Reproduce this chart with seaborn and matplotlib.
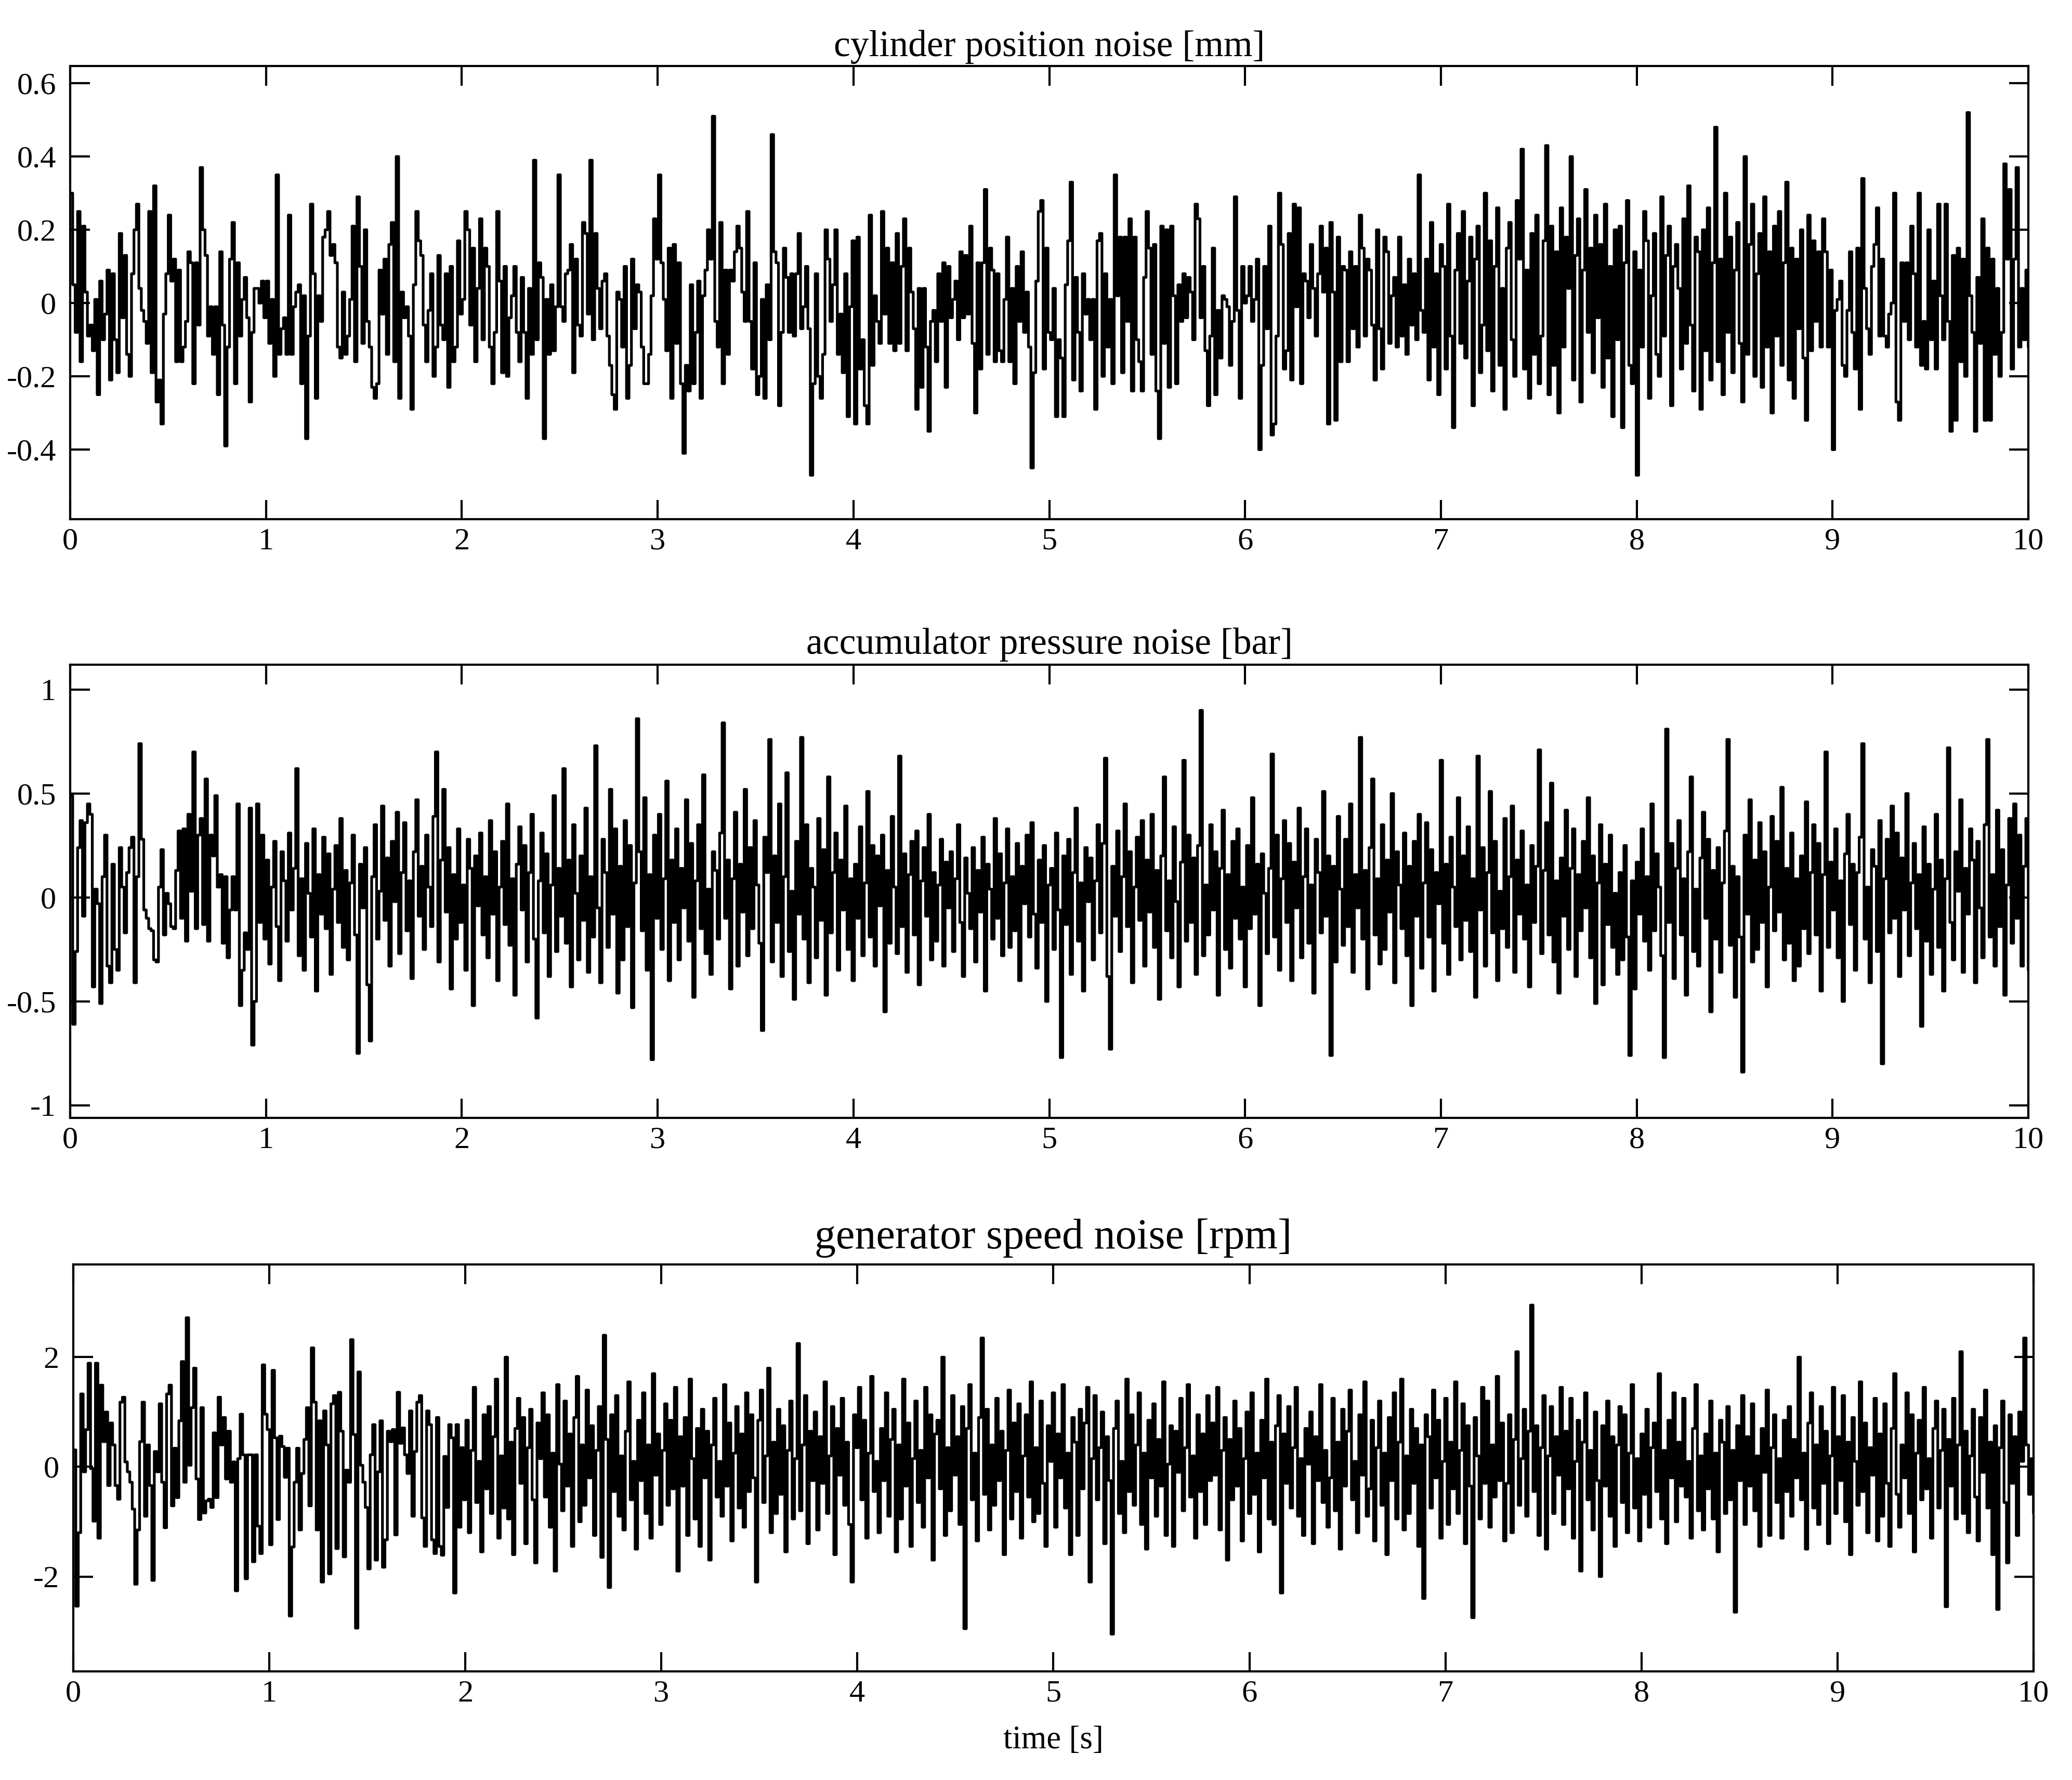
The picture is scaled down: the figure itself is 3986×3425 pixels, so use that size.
import numpy as np
import matplotlib
matplotlib.use("Agg")
import matplotlib.pyplot as plt
import seaborn as sns

# cylinder position noise [mm], 80 samples per second, one row = 0.1 s
cyl_noise = [
    0.30, 0.05, -0.08, 0.25, -0.16, 0.21, 0.03, -0.09,
    -0.06, -0.13, 0.01, -0.25, 0.06, -0.10, -0.03, 0.09,
    -0.21, 0.08, -0.10, -0.19, 0.19, -0.04, 0.13, -0.14,
    -0.20, 0.08, 0.20, 0.27, 0.04, -0.02, -0.05, -0.11,
    0.25, -0.19, 0.32, -0.27, -0.21, -0.33, -0.03, 0.08,
    0.24, 0.06, 0.12, -0.16, 0.09, -0.16, -0.12, -0.05,
    0.14, 0.11, -0.22, 0.11, -0.06, 0.37, 0.20, 0.13,
    -0.09, -0.01, -0.14, -0.01, -0.25, 0.14, -0.06, -0.39,
    -0.12, 0.12, 0.22, -0.22, 0.11, -0.09, 0.01, 0.07,
    -0.04, -0.27, -0.08, 0.04, 0.04, 0.00, 0.06, -0.04,
    0.06, -0.11, 0.01, -0.20, 0.35, -0.14, -0.07, -0.04,
    -0.14, 0.24, -0.14, -0.01, 0.03, 0.05, -0.22, 0.02,
    -0.37, -0.09, 0.27, 0.08, -0.26, 0.02, -0.05, 0.18,
    0.20, 0.25, 0.13, 0.16, 0.11, -0.12, -0.15, 0.03,
    -0.14, -0.09, 0.01, 0.21, -0.16, 0.29, 0.10, -0.11,
    0.20, -0.05, -0.12, -0.23, -0.26, -0.22, 0.09, -0.03,
    0.12, -0.14, 0.16, 0.22, -0.16, 0.40, -0.26, 0.03,
    -0.04, -0.01, -0.09, -0.29, 0.05, 0.25, 0.17, 0.13,
    -0.06, -0.16, -0.02, 0.08, -0.20, -0.12, 0.13, -0.06,
    -0.10, 0.08, -0.23, 0.10, -0.16, -0.12, 0.17, -0.03,
    0.01, 0.25, 0.20, -0.06, 0.15, -0.16, 0.04, 0.23,
    -0.10, 0.15, 0.10, -0.12, -0.22, -0.08, 0.25, 0.06,
    -0.19, 0.10, -0.20, -0.04, 0.02, 0.10, -0.08, -0.16,
    0.07, -0.08, -0.26, 0.04, -0.14, 0.39, -0.10, 0.11,
    0.07, -0.37, 0.01, -0.14, 0.05, -0.13, -0.01, 0.35,
    -0.01, -0.05, 0.08, 0.09, 0.16, -0.19, 0.12, -0.06,
    -0.09, 0.22, 0.19, -0.03, 0.39, -0.10, 0.19, 0.04,
    -0.07, 0.06, 0.08, -0.09, -0.17, -0.25, -0.29, 0.03,
    0.01, -0.12, 0.10, -0.26, -0.17, 0.12, -0.07, 0.05,
    0.03, -0.12, -0.22, -0.22, -0.14, 0.02, 0.23, 0.12,
    0.35, 0.11, 0.01, -0.13, 0.15, -0.26, 0.16, -0.11,
    0.11, -0.22, -0.41, -0.17, -0.24, 0.05, -0.22, -0.08,
    0.06, -0.26, 0.02, 0.09, 0.20, 0.12, 0.51, -0.05,
    -0.12, 0.22, -0.22, 0.09, -0.14, 0.09, 0.06, 0.14,
    0.21, 0.15, 0.03, -0.05, 0.25, -0.05, -0.18, 0.11,
    -0.25, -0.20, 0.01, -0.26, 0.05, -0.10, 0.46, 0.14,
    0.11, -0.28, -0.08, 0.15, 0.07, -0.08, 0.08, -0.09,
    0.08, 0.19, -0.07, -0.01, 0.10, -0.07, -0.47, -0.22,
    0.08, -0.20, -0.26, -0.14, 0.20, 0.12, -0.05, 0.05,
    0.20, -0.14, -0.03, -0.19, 0.08, -0.31, -0.01, 0.17,
    -0.33, 0.18, -0.18, -0.10, -0.28, -0.33, 0.24, -0.17,
    0.02, -0.05, -0.11, 0.25, -0.03, 0.15, -0.11, 0.11,
    -0.13, 0.19, -0.11, 0.10, 0.23, -0.13, 0.15, 0.03,
    -0.07, -0.29, 0.04, -0.23, 0.04, -0.12, -0.35, -0.05,
    -0.02, -0.16, 0.08, -0.05, 0.11, -0.23, 0.10, -0.04,
    0.01, 0.06, -0.10, 0.14, -0.04, 0.13, -0.03, 0.21,
    -0.11, -0.30, 0.11, -0.18, 0.11, 0.31, -0.14, 0.15,
    0.09, -0.16, 0.08, -0.13, -0.16, 0.01, 0.18, -0.16,
    0.04, -0.22, 0.10, -0.05, 0.14, -0.08, 0.03, -0.12,
    -0.45, -0.19, 0.06, 0.25, 0.28, -0.18, 0.15, -0.08,
    -0.10, 0.04, -0.31, -0.10, -0.15, -0.31, 0.05, 0.17,
    0.33, -0.21, 0.07, -0.08, -0.24, 0.08, -0.03, 0.01,
    -0.10, 0.01, -0.29, 0.17, 0.19, -0.20, 0.08, -0.12,
    0.01, -0.22, 0.35, 0.02, 0.18, -0.19, 0.18, -0.05,
    0.23, -0.24, 0.18, -0.10, -0.16, -0.24, 0.07, 0.25,
    0.15, -0.14, 0.16, -0.24, -0.37, 0.21, -0.11, 0.20,
    -0.23, 0.21, 0.02, -0.22, 0.05, -0.05, 0.08, -0.04,
    0.07, 0.03, -0.10, 0.27, 0.23, -0.04, 0.10, -0.13,
    -0.28, -0.09, 0.15, -0.25, -0.02, -0.15, 0.02, 0.01,
    -0.01, -0.17, -0.05, 0.29, -0.02, -0.26, 0.10, 0.00,
    0.02, 0.10, -0.05, 0.01, 0.12, -0.40, -0.17, 0.10,
    -0.07, 0.21, -0.36, -0.33, -0.09, 0.30, 0.16, -0.18,
    -0.13, 0.19, -0.21, 0.27, -0.01, 0.26, -0.22, 0.08,
    0.06, -0.04, 0.16, 0.04, -0.09, 0.08, 0.21, 0.03,
    0.15, -0.33, 0.22, 0.03, -0.32, 0.18, -0.16, 0.10,
    0.09, -0.16, 0.14, -0.07, 0.10, -0.12, 0.24, 0.15,
    -0.09, 0.12, 0.09, -0.06, -0.21, 0.20, -0.07, -0.18,
    0.18, 0.14, -0.11, 0.02, 0.07, -0.12, 0.18, -0.09,
    0.05, -0.14, 0.12, -0.06, 0.08, -0.10, 0.35, -0.02,
    -0.08, 0.12, -0.21, 0.22, -0.12, 0.08, -0.25, 0.16,
    0.10, -0.18, 0.27, -0.09, -0.34, 0.09, 0.19, -0.11,
    0.25, -0.15, 0.06, 0.18, -0.28, 0.12, 0.21, -0.19,
    -0.06, 0.30, -0.13, 0.17, -0.24, 0.10, 0.26, -0.17,
    0.04, -0.29, 0.15, 0.22, -0.10, -0.20, 0.28, 0.12,
    0.42, -0.18, 0.09, -0.26, 0.19, -0.14, 0.24, -0.22,
    -0.09, 0.17, 0.43, -0.25, 0.21, -0.17, 0.14, -0.30,
    0.26, -0.12, 0.18, 0.04, 0.40, -0.21, 0.13, 0.23,
    -0.27, 0.09, 0.31, -0.08, 0.15, -0.19, 0.24, -0.04,
    0.16, -0.23, 0.27, -0.15, 0.10, -0.31, 0.20, -0.10,
    0.21, -0.34, 0.11, 0.28, -0.17, -0.22, 0.14, -0.47,
    0.09, -0.12, 0.25, 0.17, -0.26, 0.02, 0.19, -0.14,
    -0.20, 0.29, -0.09, 0.13, 0.21, -0.28, 0.10, 0.16,
    0.04, -0.18, 0.23, -0.11, 0.32, -0.06, -0.24, 0.18,
    0.14, -0.29, 0.20, -0.13, 0.26, -0.21, 0.11, 0.48,
    -0.16, 0.12, -0.25, 0.30, -0.08, 0.18, -0.19, 0.09,
    0.22, -0.11, -0.27, 0.40, -0.14, 0.16, 0.27, -0.20,
    0.08, 0.19, -0.23, 0.29, -0.12, 0.14, -0.30, 0.21,
    -0.09, 0.25, -0.17, 0.11, 0.33, -0.21, 0.15, -0.26,
    0.12, -0.07, 0.20, -0.15, -0.32, 0.24, -0.13, 0.17,
    -0.05, 0.14, -0.12, 0.23, 0.14, -0.12, 0.09, -0.40,
    -0.02, 0.01, 0.06, -0.17, -0.20, -0.02, 0.14, -0.08,
    -0.18, 0.15, -0.29, 0.34, 0.04, -0.07, -0.14, 0.10,
    0.16, 0.26, -0.09, 0.12, -0.09, -0.12, -0.03, 0.00,
    0.30, -0.27, -0.32, 0.11, -0.05, 0.11, -0.10, 0.21,
    0.08, -0.12, 0.30, -0.17, -0.05, -0.18, 0.20, -0.10,
    0.06, -0.18, 0.27, 0.02, -0.10, 0.27, -0.05, -0.35,
    0.13, -0.32, 0.15, -0.16, 0.12, -0.20, 0.52, 0.02,
    -0.08, -0.35, 0.07, -0.11, 0.23, -0.32, 0.15, -0.32,
    0.12, -0.14, 0.04, -0.20, -0.08, 0.38, 0.12, 0.31,
    -0.18, 0.12, 0.37, -0.12, 0.04, -0.10, 0.09, -0.12,
]

# accumulator pressure noise [bar]
acc_noise = [
    0.49, -0.61, -0.26, 0.24, 0.37, -0.09, 0.36, 0.45,
    0.40, -0.43, 0.04, -0.03, -0.51, 0.10, 0.30, -0.33,
    -0.41, 0.16, -0.25, -0.35, 0.24, 0.05, -0.17, 0.12,
    0.24, 0.29, -0.41, 0.10, 0.74, 0.28, -0.06, -0.10,
    -0.15, -0.16, -0.30, -0.31, 0.05, 0.23, -0.18, 0.02,
    -0.03, -0.14, -0.15, 0.13, 0.32, -0.10, 0.33, -0.21,
    0.40, 0.03, 0.70, -0.15, 0.30, 0.38, -0.13, 0.57,
    -0.21, 0.30, 0.20, 0.49, 0.05, 0.11, -0.22, 0.10,
    -0.29, -0.06, 0.10, -0.06, 0.45, -0.52, -0.35, -0.17,
    -0.25, 0.43, -0.71, -0.50, 0.45, -0.12, 0.30, -0.20,
    0.18, -0.32, 0.05, 0.27, -0.14, -0.40, 0.22, 0.08,
    -0.21, 0.31, -0.06, 0.14, 0.62, -0.28, 0.09, -0.35,
    0.26, 0.02, -0.19, 0.33, -0.45, 0.11, -0.08, 0.29,
    -0.15, 0.21, -0.37, 0.04, 0.25, -0.12, 0.38, -0.24,
    0.13, -0.30, 0.07, 0.30, -0.18, -0.75, 0.16, -0.05,
    0.24, -0.42, -0.69, 0.10, 0.35, -0.20, 0.03, 0.44,
    -0.11, 0.19, -0.33, 0.27, -0.02, 0.41, -0.27, 0.12,
    0.36, -0.16, 0.08, -0.39, 0.22, 0.47, -0.09, 0.15,
    -0.25, 0.30, 0.05, -0.14, 0.39, 0.70, -0.31, 0.18,
    0.52, -0.07, 0.24, -0.44, 0.11, -0.20, 0.33, -0.12,
    0.06, -0.35, 0.28, 0.14, -0.52, 0.20, -0.04, 0.31,
    -0.18, 0.10, -0.29, 0.37, -0.08, 0.22, -0.40, 0.05,
    0.27, -0.13, 0.45, -0.23, 0.09, -0.47, 0.16, 0.34,
    -0.06, 0.25, -0.31, 0.12, 0.40, -0.20, -0.58, 0.08,
    0.31, -0.17, 0.21, -0.38, 0.06, 0.49, -0.26, 0.14,
    -0.09, 0.62, -0.22, 0.18, -0.43, 0.35, 0.02, -0.30,
    0.20, -0.11, 0.43, -0.36, 0.10, -0.19, 0.73, -0.05,
    -0.41, 0.28, 0.12, -0.24, 0.52, -0.08, 0.33, -0.46,
    0.15, -0.30, 0.37, -0.14, 0.25, -0.53, 0.07, 0.86,
    0.22, -0.16, 0.48, -0.35, 0.11, -0.78, 0.30, -0.10,
    0.40, -0.25, 0.09, 0.56, -0.40, 0.18, -0.12, 0.33,
    -0.30, 0.14, -0.05, 0.47, -0.21, 0.26, -0.48, 0.08,
    0.35, -0.15, 0.59, -0.27, 0.04, -0.37, 0.22, 0.13,
    -0.20, 0.31, 0.84, -0.10, 0.18, -0.44, 0.09, 0.41,
    -0.33, 0.16, -0.07, 0.52, -0.28, 0.24, -0.15, 0.37,
    0.06, -0.22, -0.64, 0.29, 0.12, 0.76, -0.31, 0.20,
    -0.12, 0.45, -0.38, 0.10, 0.60, -0.26, 0.03, -0.49,
    0.27, -0.08, 0.77, -0.20, 0.35, -0.41, 0.14, 0.05,
    -0.29, 0.38, -0.11, 0.23, -0.47, 0.58, -0.17, 0.12,
    0.31, -0.35, 0.18, -0.06, 0.44, -0.25, 0.09, -0.40,
    0.16, -0.10, 0.34, -0.28, 0.07, 0.51, -0.19, 0.25,
    -0.33, 0.20, -0.04, 0.30, -0.55, 0.13, -0.22, 0.39,
    0.05, -0.27, 0.68, -0.14, 0.21, -0.36, 0.11, 0.27,
    -0.18, 0.32, -0.42, 0.08, 0.24, -0.09, 0.40, -0.30,
    0.12, -0.21, 0.06, 0.28, -0.33, 0.17, -0.05, 0.22,
    -0.26, 0.09, 0.35, -0.12, -0.38, 0.19, 0.02, -0.15,
    0.24, -0.31, 0.13, -0.07, 0.29, -0.45, 0.16, 0.04,
    -0.20, 0.38, -0.10, 0.21, -0.28, 0.07, 0.33, -0.24,
    0.10, -0.16, 0.26, -0.40, 0.15, -0.03, 0.30, -0.19,
    0.36, -0.08, -0.34, 0.18, -0.12, 0.25, -0.50, 0.06,
    0.14, -0.25, 0.31, -0.06, -0.77, 0.20, -0.13, 0.28,
    -0.37, 0.12, 0.43, -0.21, 0.07, -0.45, 0.24, -0.02,
    0.19, -0.30, 0.08, 0.35, -0.17, 0.26, 0.67, -0.38,
    -0.73, 0.15, -0.09, 0.32, -0.26, 0.10, 0.45, -0.14,
    0.22, -0.41, 0.05, 0.29, -0.11, 0.37, -0.33, 0.18,
    -0.07, 0.40, -0.24, 0.13, -0.49, 0.20, 0.58, -0.16,
    0.08, -0.29, 0.34, -0.02, -0.43, 0.17, 0.66, -0.21,
    0.30, -0.12, 0.19, -0.37, 0.25, 0.90, -0.28, 0.06,
    -0.18, 0.35, -0.06, 0.22, -0.47, 0.14, 0.42, -0.25,
    0.11, -0.34, 0.27, -0.10, 0.33, -0.20, 0.05, -0.43,
    0.25, -0.15, 0.48, -0.08, 0.16, -0.52, 0.21, 0.02,
    -0.27, 0.14, 0.69, -0.19, 0.30, -0.35, 0.09, 0.37,
    -0.12, 0.26, -0.40, 0.17, -0.05, 0.43, -0.29, 0.10,
    0.33, -0.22, 0.06, -0.46, 0.28, 0.12, -0.17, 0.51,
    -0.09, 0.20, -0.76, 0.15, -0.31, 0.39, 0.04, -0.23,
    0.28, -0.14, 0.45, -0.36, 0.11, -0.05, 0.77, -0.20,
    0.13, -0.44, 0.24, 0.57, -0.18, 0.09, -0.32, 0.35,
    -0.25, 0.18, -0.07, 0.50, -0.41, 0.22, 0.06, -0.15,
    0.31, -0.28, 0.15, -0.52, 0.27, -0.09, 0.40, -0.34,
    0.07, 0.36, -0.19, 0.23, -0.45, 0.12, -0.03, 0.66,
    -0.22, 0.16, -0.37, 0.29, 0.05, -0.14, 0.48, -0.30,
    0.20, -0.11, 0.34, -0.26, 0.09, -0.48, 0.68, -0.06,
    0.24, -0.33, 0.12, 0.51, -0.17, 0.27, -0.40, 0.03,
    -0.15, 0.38, -0.24, 0.10, 0.44, -0.36, 0.18, -0.08,
    0.32, -0.20, 0.06, -0.43, 0.25, -0.12, 0.15, 0.71,
    -0.27, 0.13, 0.36, -0.18, 0.55, -0.31, 0.08, -0.46,
    0.19, -0.09, 0.42, -0.25, 0.14, 0.33, -0.38, 0.11,
    -0.16, 0.27, -0.05, 0.48, -0.29, 0.20, -0.51, 0.07,
    0.35, -0.42, 0.16, -0.13, 0.30, -0.24, 0.02, -0.37,
    0.12, -0.30, 0.25, -0.19, -0.76, 0.08, -0.44, 0.17,
    -0.08, 0.33, -0.21, 0.10, -0.35, 0.45, -0.16, 0.21,
    0.05, -0.28, -0.77, 0.81, -0.12, 0.26, -0.39, 0.14,
    0.37, -0.18, 0.09, -0.47, 0.22, 0.58, -0.26, 0.04,
    -0.33, 0.19, 0.41, -0.10, 0.28, -0.55, 0.13, -0.20,
    0.24, -0.36, 0.07, 0.32, 0.76, -0.23, 0.15, -0.48,
    0.10, -0.19, -0.84, 0.30, -0.08, 0.47, -0.31, 0.18,
    -0.25, 0.36, -0.12, 0.22, -0.43, 0.05, 0.39, -0.16,
    0.27, -0.07, 0.53, -0.30, 0.14, -0.22, 0.31, -0.40,
    0.09, -0.33, 0.20, -0.15, 0.46, -0.27, 0.12, 0.35,
    -0.18, 0.26, -0.45, 0.11, 0.70, -0.24, 0.17, -0.06,
    0.33, -0.29, 0.08, -0.50, 0.21, 0.40, -0.13, 0.16,
    -0.35, 0.12, 0.29, 0.74, -0.20, 0.05, -0.41, 0.23,
    0.15, -0.26, 0.37, -0.80, 0.09, 0.28, -0.17, 0.44,
    -0.10, 0.31, -0.38, 0.19, -0.06, 0.50, -0.28, 0.07,
    0.26, -0.15, 0.11, -0.62, 0.34, -0.21, 0.16, -0.37,
    0.04, 0.40, -0.24, 0.18, -0.45, 0.09, 0.72, -0.12,
    -0.30, 0.22, 0.03, 0.47, -0.36, 0.14, -0.08, 0.33,
    0.18, -0.41, 0.27, -0.05, -0.29, 0.35, 0.76, -0.19,
    0.11, -0.33, 0.42, -0.14, 0.23, -0.47, 0.06, 0.38,
    -0.22, 0.45, -0.10, 0.30, -0.33, 0.15, 0.38, -0.35,
]

# generator speed noise [rpm]
gen_noise = [
    0.31, -2.54, -1.20, 1.33, -0.09, 0.68, 1.89, -0.03,
    -0.99, 1.89, -1.30, 1.49, 0.46, 1.00, -0.34, 0.80,
    0.40, -0.34, -0.59, 1.18, 1.27, 0.09, -0.09, -0.28,
    -0.77, -2.14, -1.15, 0.46, 1.18, -0.90, 0.40, -0.34,
    -2.07, 0.28, -0.09, 1.15, -0.28, -1.11, 1.33, 1.49,
    -0.71, 0.34, -0.56, 0.84, 1.92, -0.28, 2.72, 0.03,
    1.08, 1.80, -0.22, -0.96, 1.08, -0.84, -0.62, -0.59,
    -0.74, 0.62, -0.56, 1.27, 0.40, 0.90, -0.22, 0.65,
    -0.28, 0.09, -2.26, 0.15, 0.96, 0.22, -2.04, 0.22,
    0.22, -1.73, 0.22, -1.08, -1.58, 1.86, 0.96, 0.68,
    -1.42, 1.76, 0.53, -0.96, 0.56, 0.37, -0.19, 0.34,
    -2.72, -1.46, -0.28, 0.34, -1.15, -0.12, 0.50, 1.08,
    -0.71, 2.17, 1.18, -1.15, 0.84, -2.10, 1.02, 0.40,
    -1.95, 1.15, 1.30, -1.49, 1.36, 0.65, -1.64, -0.06,
    -0.28, 2.32, 0.59, -2.94, 1.73, 0.03, -0.28, -0.74,
    -1.86, 0.22, 0.77, -1.70, -0.09, 0.84, -1.83, -1.33,
    0.65, 0.46, 0.68, -1.24, 1.36, 0.43, 0.71, 0.22,
    -0.12, 1.02, -0.90, 0.28, 1.18, 1.30, -0.93, -1.45,
    1.02, 0.77, -1.33, -1.58, 0.90, -1.45, -1.61, 0.19,
    -0.74, 0.77, 0.53, -2.30, 0.77, -1.10, 0.35, -0.60,
    0.85, -1.20, 0.30, 1.45, -0.65, 0.10, -1.55, 0.95,
    -0.40, 1.10, -0.85, 0.55, 1.60, -1.30, 0.20, -0.75,
    2.00, -0.95, 0.45, -1.60, 0.70, 1.25, -0.30, 0.90,
    -1.40, 0.35, 1.05, -0.60, -1.75, 0.80, 0.15, 1.35,
    -0.55, 0.95, -1.10, 0.25, -1.90, 1.50, 0.05, -0.80,
    1.20, -0.35, 0.60, -1.45, 0.90, 1.65, -1.00, 0.40,
    -0.70, 1.40, -0.20, 0.75, -1.25, 0.30, 1.10, -1.65,
    2.40, 0.50, -2.20, 0.95, -0.45, 1.30, -0.90, 0.20,
    -1.15, 0.65, 1.55, -0.60, 0.10, -1.50, 0.85, -0.25,
    1.35, -0.85, 0.40, -1.30, 1.70, -0.15, 0.60, -1.05,
    0.30, 1.15, -0.70, 0.85, -0.40, 1.45, -1.90, 0.55,
    -0.35, 0.90, -1.25, 1.60, 0.15, -0.95, 0.70, -1.45,
    1.05, -0.20, 0.65, -1.70, 0.40, 1.25, -0.55, 0.10,
    -0.90, 1.50, -0.35, 0.80, -1.35, 0.25, 1.10, -0.75,
    0.60, -1.10, 1.35, -0.45, 0.95, -0.20, -2.10, 0.85,
    1.40, -0.65, 0.20, 1.80, -1.20, 0.45, -0.85, 1.05,
    -0.50, 0.75, -1.55, 0.30, 1.20, -0.95, 0.15, 2.25,
    -0.80, 0.40, 1.30, -1.40, 0.65, -0.25, 1.00, -1.15,
    0.55, -0.30, 1.55, -0.85, 0.20, 1.10, -1.60, 0.70,
    -0.15, 1.25, -0.70, 0.45, -1.05, -2.10, 0.95, 0.35,
    1.45, -0.60, 0.85, -1.30, 0.25, 1.65, -0.45, 0.10,
    -1.20, 0.70, -0.25, 1.35, -0.90, 0.50, 1.05, -1.55,
    0.40, -0.95, 1.60, -0.35, 0.80, -1.45, 0.15, 1.20,
    -0.65, 0.30, -1.10, 1.45, -0.20, 0.95, -1.70, 0.60,
    0.85, -0.40, 2.00, -1.25, 0.35, -0.80, 1.30, -0.15,
    0.55, -1.05, 1.10, -2.95, 0.70, 1.50, -0.60, 0.25,
    -1.35, 0.90, 2.35, -0.50, 1.05, -1.15, 0.40, -0.70,
    1.25, -0.25, 0.65, -1.60, 0.30, 1.40, -0.95, 0.80,
    -0.45, 1.15, -1.30, 0.20, 0.95, -0.55, 1.55, -1.00,
    0.35, -0.85, 1.20, -0.30, -1.45, 0.75, 0.10, 1.35,
    -1.10, 0.60, -0.20, 1.50, -0.75, 0.25, -1.60, 0.90,
    0.45, -1.25, 1.05, -0.40, 0.80, 1.45, -2.10, 0.15,
    1.30, -0.60, 0.35, 1.00, -1.40, 0.55, -0.25, -3.05,
    0.70, 1.20, -0.85, 0.10, -1.20, 1.60, -0.45, 0.95,
    -0.70, 0.40, 1.35, -1.05, 0.25, -1.50, 0.85, -0.20,
    1.15, -0.90, 0.50, -0.35, 1.55, -1.25, 0.05, 0.75,
    -1.45, 0.65, -0.10, 1.25, -0.80, 0.35, 1.50, -0.55,
    0.20, -1.30, 0.95, -0.45, 0.60, -1.05, 1.30, -0.25,
    0.80, -0.15, 1.45, -1.15, 0.30, 0.90, -1.70, 0.50,
    -0.60, 1.20, -0.35, 0.70, -1.35, 0.15, 1.00, -0.85,
    1.35, -0.50, 0.25, -1.55, 0.85, -0.20, 1.60, -0.95,
    0.45, -1.05, 0.75, 1.30, -2.30, 0.60, -0.30, 1.10,
    -0.75, 0.35, 1.45, -0.90, 0.15, -1.25, 0.70, 0.05,
    1.00, -1.40, 0.55, -0.25, 1.50, -0.65, 0.30, -1.10,
    -0.20, 1.25, -0.80, 0.45, -1.50, 1.05, -0.35, 0.65,
    1.40, -0.60, 0.10, -1.20, 0.95, -0.15, 1.55, -0.90,
    -0.40, 0.85, -1.35, 0.35, 1.20, -0.70, 0.25, -1.60,
    0.90, -0.25, 1.35, -0.95, 0.45, 1.60, -1.15, 0.20,
    -0.85, 1.05, -0.30, 0.70, -1.45, 0.40, -2.40, 0.95,
    0.55, -0.75, 1.40, -0.20, 0.85, -1.30, 0.10, 1.25,
    -1.05, 0.45, -0.40, 1.55, -0.85, 0.30, 1.15, -1.40,
    0.75, -0.35, -2.75, 0.90, 0.20, -0.95, 1.45, -0.30,
    1.20, -1.10, 0.40, -0.55, 1.65, -0.25, 0.80, -1.35,
    -0.30, 0.95, -1.20, 0.50, 2.10, -0.70, 0.15, 1.05,
    -0.90, 0.65, 2.95, -0.45, 0.75, -1.25, 0.35, 1.30,
    -1.50, 0.20, 1.10, -0.85, 0.55, -0.15, 1.45, -1.05,
    0.65, -0.40, 1.25, -1.30, 0.10, 0.85, -1.90, 0.45,
    1.35, -0.60, 0.30, -1.15, 1.00, -0.25, -2.00, 0.75,
    -0.35, 1.20, -0.90, 0.55, -1.45, 0.40, 1.10, -0.65,
    0.95, -1.20, 0.25, 1.50, -0.75, 0.15, -1.35, 0.60,
    -0.50, 1.05, -1.10, 0.35, 0.80, -0.45, 1.70, -0.95,
    0.30, -1.40, 0.85, -0.20, 1.35, -1.00, 0.45, -0.35,
    1.25, -0.55, 0.10, -1.30, 0.70, 1.50, -0.80, 0.20,
    -1.15, 0.60, -0.40, 1.20, -0.95, 0.25, -1.55, 0.85,
    0.45, -0.85, 1.10, -0.60, 0.30, -2.65, 0.75, -0.25,
    1.30, -1.05, 0.55, -0.35, 1.15, -0.80, 0.20, -1.45,
    0.70, -0.10, 1.40, -1.25, 0.35, 0.95, -0.65, 0.15,
    -1.30, 0.85, -0.45, 1.10, -0.90, 0.50, -0.20, 2.00,
    -0.60, 0.25, -1.50, 0.80, 1.35, -0.75, 0.40, -1.05,
    1.10, -0.30, 0.65, -1.40, 0.20, 1.45, -0.85, 0.55,
    -0.25, 1.30, -1.00, 0.45, -1.60, 0.90, 0.10, -0.70,
    1.55, -0.45, 0.80, -1.20, 0.35, -0.15, 1.25, -1.35,
    0.60, -0.90, 1.15, -0.30, -1.45, 0.70, 1.70, -0.50,
    -1.10, 0.40, -0.20, 1.35, -0.85, 0.95, -1.55, 0.25,
    0.85, -0.60, 1.45, -0.40, 0.15, -1.30, 0.70, 1.20,
    -0.75, 0.30, 1.05, -2.55, 0.50, -0.35, 1.25, -0.95,
    0.40, 2.10, -0.85, 0.65, -1.20, 0.20, 1.05, -0.55,
    -1.35, 0.90, -0.10, 1.40, -0.75, 0.45, -1.60, 0.75,
    -2.60, 0.35, 1.20, -0.65, -1.75, 0.95, -0.30, 0.55,
    -1.25, 1.00, 0.10, 2.35, 0.40, -0.50, 0.15, -0.85,
]

titles = ["cylinder position noise [mm]",
          "accumulator pressure noise [bar]",
          "generator speed noise [rpm]"]
x_ticks = list(range(11))
x_ticklabels = [str(v) for v in x_ticks]
cyl_yticks = [-0.4, -0.2, 0, 0.2, 0.4, 0.6]
cyl_yticklabels = ["-0.4", "-0.2", "0", "0.2", "0.4", "0.6"]
acc_yticks = [-1, -0.5, 0, 0.5, 1]
acc_yticklabels = ["-1", "-0.5", "0", "0.5", "1"]
gen_yticks = [-2, 0, 2]
gen_yticklabels = ["-2", "0", "2"]

sns.set_theme(style="white")
plt.rcParams["font.family"] = ["Liberation Serif", "DejaVu Serif"]
plt.rcParams["axes.unicode_minus"] = False

fig = plt.figure(figsize=(3986 / 300, 3425 / 300), dpi=300)

panels = [
    (cyl_noise, cyl_yticks, cyl_yticklabels, (-0.59, 0.647), [0.0339, 0.7083, 0.9450, 0.2546], 17.2, 4.6),
    (acc_noise, acc_yticks, acc_yticklabels, (-1.06, 1.12), [0.0339, 0.3720, 0.9450, 0.2546], 17.2, 5.0),
    (gen_noise, gen_yticks, gen_yticklabels, (-3.73, 3.69), [0.0354, 0.0610, 0.9460, 0.2286], 19.7, 7.5),
]

for i, (vals, yt, ytl, ylim, pos, tsize, tpad) in enumerate(panels):
    ax = fig.add_axes(pos)
    t = np.linspace(0, 10, len(vals))
    sns.lineplot(x=t, y=np.array(vals), ax=ax, color="black", linewidth=1.25,
                 drawstyle="steps-post", estimator=None)
    ax.set_xlim(0, 10)
    ax.set_ylim(*ylim)
    ax.set_xticks(x_ticks)
    ax.set_xticklabels(x_ticklabels)
    ax.set_yticks(yt)
    ax.set_yticklabels(ytl)
    ax.tick_params(direction="in", length=9, width=1.0, colors="black",
                   bottom=True, top=True, left=True, right=True, labelsize=14.5)
    ax.tick_params(axis="x", pad=4)
    ax.tick_params(axis="y", pad=6.5)
    for s in ax.spines.values():
        s.set_linewidth(1.0)
        s.set_color("black")
    ax.set_title(titles[i], fontsize=tsize, pad=tpad, color="black")
    ax.set_ylabel("")
    if i == 2:
        ax.set_xlabel("time [s]", fontsize=15, labelpad=8, color="black")
    else:
        ax.set_xlabel("")

fig.savefig("out.png", dpi=300)
